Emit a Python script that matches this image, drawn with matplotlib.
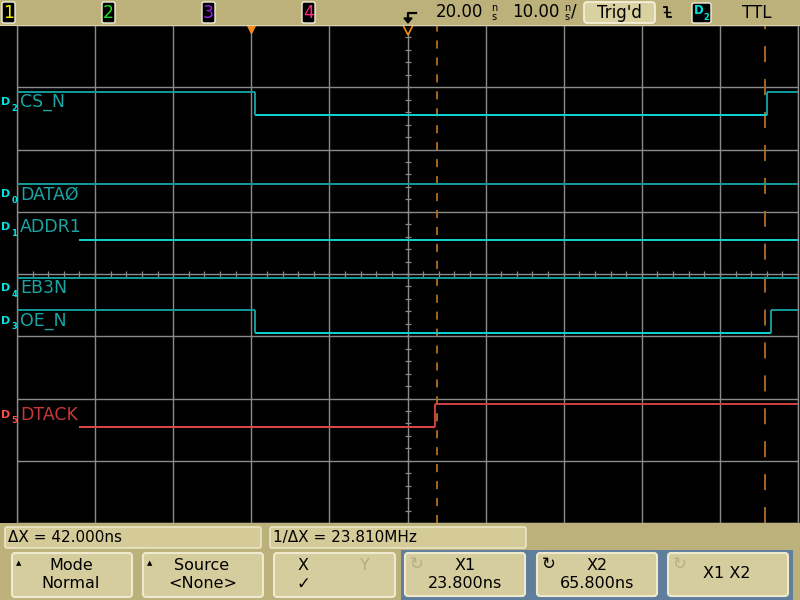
import numpy as np
import matplotlib
matplotlib.use("Agg")
import matplotlib.pyplot as plt
from matplotlib.patches import Rectangle, FancyBboxPatch, Polygon

plt.rcParams['lines.scale_dashes'] = False
plt.rcParams['font.family'] = ['DejaVu Sans']

# ---- scope settings (ns) ----
t_left, t_right = -30.0, 70.0
time_per_div = "10.00"
delay_text = "20.00"
delay_t = 20.0
trig_t = 0.0
x1_t, x2_t = 23.8, 65.8
dx_text = "\u0394X = 42.000ns"
inv_dx_text = "1/\u0394X = 23.810MHz"

# ---- digital channels ----
chan_ids = ["2", "0", "1", "4", "3", "5"]
chan_names = ["CS_N", "DATA\u00d8", "ADDR1", "EB3N", "OE_N", "DTACK"]
chan_base = [6.56, 5.08, 4.55, 3.57, 3.05, 1.54]   # low level, divisions
amp = 0.37
edge_times = [
    [-30.0, 0.5, 66.0, 70.0],
    [-30.0, 70.0],
    [-22.0, 70.0],
    [-30.0, 70.0],
    [-30.0, 0.5, 66.5, 70.0],
    [-22.0, 23.5, 70.0],
]
edge_levels = [
    [1, 0, 1],
    [1],
    [0],
    [1],
    [1, 0, 1],
    [0, 1],
]
chan_red = [False, False, False, False, False, True]

tan = "#bcb17a"
face = "#d6cd9e"
edge_c = "#efe9cf"
grid_c = "#8a8a8a"
cur_c = "#a8661f"

fig = plt.figure(figsize=(8, 6), dpi=100, facecolor="black")

ax = fig.add_axes([17 / 800, 77 / 600, 781 / 800, 498 / 600], facecolor="black")
ax.set_xlim(t_left, t_right)
ax.set_ylim(0, 8)
ax.set_xticks(np.arange(t_left, t_right + 1, 10))
ax.set_yticks(np.arange(0, 9, 1))
ax.grid(True, color=grid_c, lw=1.0)
ax.tick_params(length=0, labelbottom=False, labelleft=False)
for s in ax.spines.values():
    s.set_color(grid_c)
    s.set_linewidth(1.0)

# center graticule ticks
hx = np.arange(t_left, t_right + 0.1, 2)
ax.plot(hx, np.full(hx.size, 4.0), ls="none", marker="|", ms=5, mew=0.9, color=grid_c)
vy = np.arange(0, 8.01, 0.2)
ax.plot(np.full(vy.size, delay_t), vy, ls="none", marker="_", ms=5, mew=0.9, color=grid_c)

# traces
for i in range(len(chan_ids)):
    if chan_red[i]:
        hi_c, lo_c, txt_c, id_c = "#d04040", "#e04848", "#c83a3a", "#ff4a4a"
    else:
        hi_c, lo_c, txt_c, id_c = "#139c9c", "#10d4d4", "#1aa4a4", "#00e4e4"
    base = chan_base[i]
    tt = edge_times[i]
    lv = edge_levels[i]
    for k in range(len(lv)):
        y = base + amp * lv[k]
        ax.hlines(y, tt[k], tt[k + 1], color=hi_c if lv[k] else lo_c, lw=1.4, zorder=3)
        if k > 0:
            ax.vlines(tt[k], base, base + amp, color=hi_c, lw=1.4, zorder=3)
    ym = base + amp / 2
    ax.annotate(chan_names[i], xy=(t_left, ym), xytext=(3, 1), textcoords="offset pixels",
                color=txt_c, fontsize=12.5, va="center", ha="left", annotation_clip=False)
    ax.annotate("D", xy=(t_left, ym), xytext=(-16, 1), textcoords="offset pixels",
                color=id_c, fontsize=8, fontweight="bold", va="center", ha="left",
                annotation_clip=False)
    ax.annotate(chan_ids[i], xy=(t_left, ym), xytext=(-5.5, -5), textcoords="offset pixels",
                color=id_c, fontsize=6, fontweight="bold", va="center", ha="left",
                annotation_clip=False)

# cursors
ax.axvline(x1_t, color=cur_c, lw=1.4, dashes=(5.8, 6.4), zorder=2)
ax.axvline(x2_t, color=cur_c, lw=1.4, dashes=(11.5, 12.2), zorder=2)

# trigger point and delay markers
ax.plot([trig_t], [8 - 0.055], marker="v", ms=7, color="#f28c1c", clip_on=False, zorder=6)
ax.plot([delay_t], [8 - 0.07], marker="v", ms=8, mfc="black", mec="#f28c1c", mew=1.2,
        clip_on=False, zorder=6)

# ---- chrome: top status bar and softkeys ----
ov = fig.add_axes([0, 0, 1, 1], zorder=5)
ov.set_xlim(0, 800)
ov.set_ylim(600, 0)
ov.axis("off")

ov.add_patch(Rectangle((0, 0), 800, 25, color=tan, lw=0))
ov.plot([0, 800], [25, 25], color="#d8d2b0", lw=0.8)
ov.add_patch(Rectangle((0, 523), 800, 77, color=tan, lw=0))


def box(x0, y0, x1, y1, fc, ec, lw=1.2, r=3):
    ov.add_patch(FancyBboxPatch((x0, y0), x1 - x0, y1 - y0,
                                boxstyle="round,pad=0,rounding_size=%g" % r,
                                fc=fc, ec=ec, lw=lw))


ch_x = [2, 102, 202, 302]
ch_cols = ["#f0f000", "#22e022", "#a020f0", "#ff2a80"]
for k in range(4):
    box(ch_x[k], 2, ch_x[k] + 13, 23, "black", "#f4f0dc", lw=1.0, r=2)
    ov.text(ch_x[k] + 6.5, 13, str(k + 1), color=ch_cols[k], fontsize=12.5,
            ha="center", va="center")

# trigger icon
ov.plot([416, 408, 408], [13, 13, 19], color="black", lw=1.6)
ov.add_patch(Polygon([[404, 18], [412, 18], [408, 23]], closed=True, color="black"))

ov.text(436, 12, delay_text, fontsize=12, ha="left", va="center", color="black")
ov.text(494, 8, "n", fontsize=7, ha="center", va="center", color="black")
ov.text(494, 16.5, "s", fontsize=7, ha="center", va="center", color="black")
ov.text(512, 12, time_per_div, fontsize=12, ha="left", va="center", color="black")
ov.text(567, 8, "n", fontsize=7, ha="center", va="center", color="black")
ov.text(567, 16.5, "s", fontsize=7, ha="center", va="center", color="black")
ov.text(571, 12, "/", fontsize=12, ha="left", va="center", color="black")

box(584, 2, 655, 23, "#d9d1a2", "#f6f2e0", lw=1.2, r=3)
ov.text(619.5, 12.5, "Trig'd", fontsize=12, ha="center", va="center", color="black")

# falling edge symbol
ov.plot([664, 667, 667, 671], [7, 7, 17, 17], color="black", lw=1.3)
ov.plot([664, 670], [12, 12], color="black", lw=1.0)

box(692, 3, 711, 23, "black", "#f4f0dc", lw=1.0, r=2)
ov.text(699, 11, "D", fontsize=8.5, fontweight="bold", ha="center", va="center", color="#00e4e4")
ov.text(706.5, 17.5, "2", fontsize=6, fontweight="bold", ha="center", va="center", color="#00e4e4")
ov.text(757, 12.5, "TTL", fontsize=12, ha="center", va="center", color="black")

# measurement boxes
box(5, 527, 261, 548, "#d4cb99", "#ebe5c6", lw=1.2, r=2)
ov.text(8, 537.5, dx_text, fontsize=11, ha="left", va="center", color="black")
box(270, 527, 526, 548, "#d4cb99", "#ebe5c6", lw=1.2, r=2)
ov.text(273, 537.5, inv_dx_text, fontsize=11, ha="left", va="center", color="black")

# softkeys
box(12, 553, 132, 597, face, edge_c, lw=1.5)
ov.text(19, 563, "\u25b2", fontsize=5, ha="center", va="center", color="black")
ov.text(71, 565, "Mode", fontsize=11.5, ha="center", va="center")
ov.text(71, 583, "Normal", fontsize=11.5, ha="center", va="center")

box(143, 553, 263, 597, face, edge_c, lw=1.5)
ov.text(150, 563, "\u25b2", fontsize=5, ha="center", va="center", color="black")
ov.text(202, 565, "Source", fontsize=11.5, ha="center", va="center")
ov.text(203, 583, "<None>", fontsize=11.5, ha="center", va="center")

box(274, 553, 395, 597, face, edge_c, lw=1.5)
ov.text(303, 565, "X", fontsize=11.5, ha="center", va="center")
ov.text(365, 565, "Y", fontsize=11.5, ha="center", va="center", color="#b3aa80")
ov.text(303, 584, "\u2713", fontsize=12, ha="center", va="center")

ov.add_patch(Rectangle((401, 550), 392, 50, color="#5f7e9c", lw=0))
key_x = [405, 537, 668]
key_top = ["X1", "X2", ""]
key_bot = ["23.800ns", "65.800ns", ""]
icon_c = ["#b6ae88", "black", "#b6ae88"]
for k in range(3):
    box(key_x[k], 553, key_x[k] + 120, 596, face, edge_c, lw=1.5)
    ov.text(key_x[k] + 12, 564, "\u21bb", fontsize=12, ha="center", va="center", color=icon_c[k])
    if key_top[k]:
        ov.text(key_x[k] + 60, 565, key_top[k], fontsize=11.5, ha="center", va="center")
        ov.text(key_x[k] + 60, 583, key_bot[k], fontsize=11.5, ha="center", va="center")
ov.text(727, 574, "X1 X2", fontsize=11.5, ha="center", va="center")

fig.savefig("out.png", dpi=100, facecolor="black")
